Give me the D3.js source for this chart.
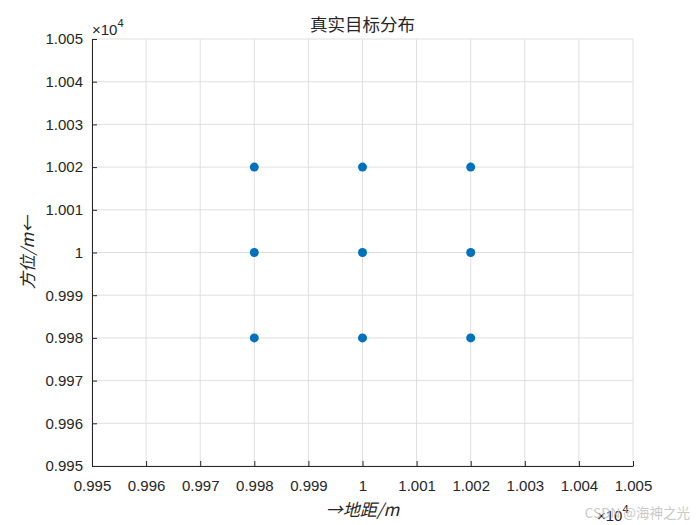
<!DOCTYPE html>
<html><head><meta charset="utf-8">
<script src="https://cdn.jsdelivr.net/npm/d3@7"></script>
<style>body{margin:0;background:#fff;} svg{display:block;}</style>
</head><body>
<script>
const xTicks = [0.995,0.996,0.997,0.998,0.999,1,1.001,1.002,1.003,1.004,1.005];
const yTicks = [0.995,0.996,0.997,0.998,0.999,1,1.001,1.002,1.003,1.004,1.005];
const xTickLabels = ["0.995","0.996","0.997","0.998","0.999","1","1.001","1.002","1.003","1.004","1.005"];
const yTickLabels = ["0.995","0.996","0.997","0.998","0.999","1","1.001","1.002","1.003","1.004","1.005"];
const targetX = [0.998,0.998,0.998,1,1,1,1.002,1.002,1.002];
const targetY = [0.998,1,1.002,0.998,1,1.002,0.998,1,1.002];
const titleText = "真实目标分布";
const xLabel = "→地距/m";
const yLabel = "方位/m←";

const W=700,H=525, L=92, R=633, T=39, B=466;
const svg = d3.select("body").append("svg").attr("width",W).attr("height",H);
const x = d3.scaleLinear().domain([0.995,1.005]).range([L,R]);
const y = d3.scaleLinear().domain([0.995,1.005]).range([B,T]);
const font = "'Liberation Sans', Arial, Helvetica, sans-serif";
const ink = "#262626";

// grid
const g = svg.append("g");
g.selectAll(".gx").data(xTicks).enter().append("line")
 .attr("x1",d=>x(d)).attr("x2",d=>x(d)).attr("y1",T).attr("y2",B)
 .attr("stroke","#dfdfdf").attr("stroke-width",1);
g.selectAll(".gy").data(yTicks).enter().append("line")
 .attr("y1",d=>y(d)).attr("y2",d=>y(d)).attr("x1",L).attr("x2",R)
 .attr("stroke","#dfdfdf").attr("stroke-width",1);

// axes
const xAxis = d3.axisBottom(x).tickValues(xTicks).tickFormat((d,i)=>xTickLabels[i]).tickSizeInner(-5).tickSizeOuter(0).tickPadding(14);
const yAxis = d3.axisLeft(y).tickValues(yTicks).tickFormat((d,i)=>yTickLabels[i]).tickSizeInner(-5).tickSizeOuter(0).tickPadding(9);
const ax = svg.append("g").attr("transform",`translate(0,${B})`).call(xAxis);
const ay = svg.append("g").attr("transform",`translate(${L},0)`).call(yAxis);
[ax,ay].forEach(a=>{
  a.select(".domain").attr("stroke",ink).attr("stroke-width",1);
  a.selectAll(".tick line").attr("stroke",ink);
  a.selectAll(".tick text").attr("fill",ink).style("font-family",font).style("font-size","15px");
});
ax.selectAll(".tick text").attr("dy","0.71em");

// points
svg.append("g").selectAll("circle").data(targetX).enter().append("circle")
 .attr("cx",d=>x(d)).attr("cy",(d,i)=>y(targetY[i])).attr("r",4.5)
 .attr("fill","#0072bd");

// title
svg.append("text").attr("x",(L+R)/2).attr("y",31).attr("text-anchor","middle")
 .style("font-family","'Noto Sans CJK SC', sans-serif").style("font-size","17.5px").attr("fill",ink).text(titleText);

// axis labels
svg.append("text").attr("x",(L+R)/2).attr("y",516).attr("text-anchor","middle")
 .style("font-family","'Noto Sans CJK SC', sans-serif").style("font-size","17px").style("font-style","italic").attr("fill",ink).text(xLabel);
svg.append("text").attr("transform",`translate(34,${(T+B)/2}) rotate(-90)`).attr("text-anchor","middle")
 .style("font-family","'Noto Sans CJK SC', sans-serif").style("font-size","17px").style("font-style","italic").attr("fill",ink).text(yLabel);

// exponents
function expo(px,py){
  const t = svg.append("text").attr("x",px).attr("y",py).style("font-family",font).style("font-size","15px").attr("fill",ink);
  t.append("tspan").text("×10");
  t.append("tspan").attr("dy",-8).style("font-size","11px").text("4");
}
expo(92,35);
expo(597,521);

// watermark
svg.append("text").attr("x",690).attr("y",518).attr("text-anchor","end")
 .style("font-family","'Noto Sans CJK SC', sans-serif").style("font-size","13.5px").attr("fill","#c4c4c4").attr("opacity",0.9).text("CSDN @海神之光");
</script>
</body></html>
